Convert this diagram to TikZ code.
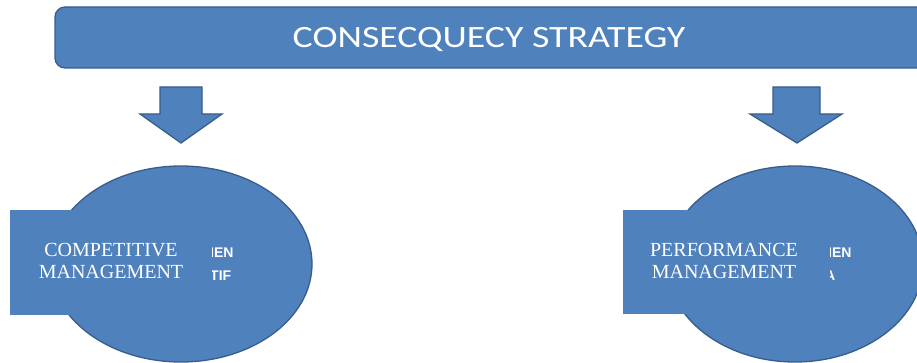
\documentclass[tikz,border=0pt]{standalone}
\usepackage{fontspec}
\setmainfont{Liberation Serif}
\newfontfamily\titlefont{Carlito}
\newfontfamily\boldsans{Liberation Sans}
\usetikzlibrary{shapes.geometric}
\definecolor{ofblue}{HTML}{4F81BD}
\definecolor{ofedge}{HTML}{385D8A}
\begin{document}
\begin{tikzpicture}[x=1pt,y=-1pt,
  shapefill/.style={fill=ofblue,draw=ofedge,line width=1.3pt},
  ovalshape/.style={shapefill,ellipse,minimum width=262pt,minimum height=196pt,inner sep=0pt},
  coverbox/.style={fill=ofblue,draw=none,inner sep=0pt,anchor=north west},
  serifwhite/.style={text=white,font=\fontsize{20}{22}\selectfont,align=center,inner sep=0pt},
  hidwhite/.style={text=white,font=\boldsans\bfseries\fontsize{14}{16}\selectfont,inner sep=0pt,anchor=base west},
  downarrow/.style={shapefill,line join=miter}
]
\useasboundingbox (0,0) rectangle (917,363);
% title box
\draw[shapefill,rounded corners=10pt] (55,7) rectangle (940,68);
\node[text=white,inner sep=0pt,anchor=base] (title) at (489,48)
  {\scalebox{1.22}[1]{\titlefont\fontsize{31}{34}\selectfont CONSECQUECY STRATEGY}};
% arrows
\draw[downarrow] (160,87) -- (202,87) -- (202,114) -- (222,114) -- (181,143) -- (140,114) -- (160,114) -- cycle;
\draw[downarrow] (773,87) -- (820,87) -- (820,114) -- (842,114) -- (797,143) -- (750,114) -- (773,114) -- cycle;
% left oval
\node[ovalshape] (lov) at (181,264) {};
\node[hidwhite] (lt1) at (210,257) {IEN};
\node[hidwhite] (lt2) at (210,280) {TIF};
\node[coverbox,minimum width=202pt,minimum height=105pt] (lbox) at (10,210) {};
\node[serifwhite] (ltxt) at (111,261) {COMPETITIVE\\MANAGEMENT};
% right oval
\node[ovalshape,minimum width=256pt] (rov) at (795,264) {};
\node[hidwhite] (rt1) at (828,257) {IEN};
\node[hidwhite] (rt2) at (825,280) {A};
\node[coverbox,minimum width=207pt,minimum height=104pt] (rbox) at (623,210) {};
\node[serifwhite] (rtxt) at (724,261) {PERFORMANCE\\MANAGEMENT};
\end{tikzpicture}
\end{document}
